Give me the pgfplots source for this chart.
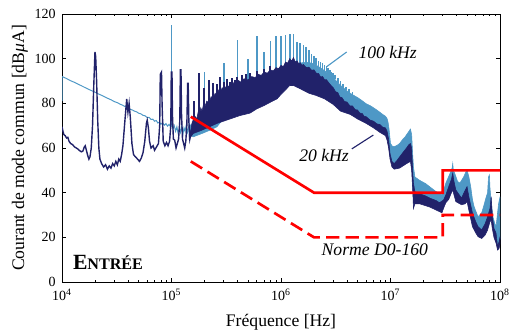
\documentclass[border=0pt]{standalone}
\usepackage{fontspec}
\setmainfont{Liberation Serif}
\usepackage{pgfplots}
\pgfplotsset{compat=1.18}
\definecolor{navy}{RGB}{33,34,106}
\definecolor{lblue}{RGB}{78,152,198}
\definecolor{lred}{RGB}{255,0,0}
\begin{document}
\begin{tikzpicture}
\begin{axis}[
 xmode=log, width=312.86pt, height=191.43pt, scale only axis,
 xmin=1e4, xmax=1e8, ymin=0, ymax=120,
 xtick={1e4,1e5,1e6,1e7,1e8},
 xticklabels={10\textsuperscript{4},10\textsuperscript{5},10\textsuperscript{6},10\textsuperscript{7},10\textsuperscript{8}},
 minor xtick={2e4,3e4,4e4,5e4,6e4,7e4,8e4,9e4,2e5,3e5,4e5,5e5,6e5,7e5,8e5,9e5,2e6,3e6,4e6,5e6,6e6,7e6,8e6,9e6,2e7,3e7,4e7,5e7,6e7,7e7,8e7,9e7},
 ytick={0,20,...,120},
 /pgf/number format/assume math mode=true,
 tick label style={font=\fontsize{10}{12}\selectfont},
 xticklabel style={yshift=-1.5pt},
 yticklabel style={xshift=-1pt},
 label style={font=\fontsize{12.6}{14}\selectfont},
 xlabel={Fréquence [Hz]}, ylabel={Courant de mode commun [dB\textit{μ}A]},
 xlabel style={at={(axis description cs:0.5,-0.1494)},anchor=center},
 ylabel style={at={(axis description cs:-0.0959,0.5)},anchor=center},
 major tick length=3pt, minor tick length=1.6pt,
 axis line style={line width=0.6pt},
 tick style={line width=0.5pt,black},
 unbounded coords=jump,
]
% ---- 100 kHz (light blue) low-frequency trace
\addplot[lblue, line width=0.7pt] coordinates {
(1.0e4,81) (1.003e4,92) (1.1e4,91.1) (1.2e4,90.1) (1.3e4,89.4) (1.4e4,88.6) (1.5e4,87.9) (1.6e4,87.2) (1.7e4,86.6) (1.8e4,86.0) (1.9e4,85.5) (2.0e4,85.0) (2.15e4,84.2) (2.3e4,83.6) (2.45e4,82.9) (2.6e4,82.3) (2.8e4,81.6) (3.0e4,80.8) (3.2e4,80.3) (3.4e4,79.6) (3.6e4,79.1) (3.8e4,78.4) (4.0e4,78.1) (4.2e4,77.3) (4.4e4,77.0) (4.6e4,76.5) (4.8e4,76.2) (5.0e4,75.6) (5.25e4,75.3) (5.5e4,74.6) (5.75e4,74.4) (6.0e4,73.6) (6.25e4,73.7) (6.5e4,72.8) (6.75e4,72.9) (7.0e4,72.0) (7.25e4,72.3) (7.5e4,71.2) (7.75e4,71.6) (8.0e4,70.6) (8.3e4,71.3) (8.6e4,70.2) (8.9e4,70.9) (9.2e4,69.8) (9.5e4,70.6) (9.8e4,69.5) (1.0e5,70.5) (1.03e5,68.5) (1.06e5,70) (1.09e5,67.5) (1.12e5,69.5) (1.15e5,66.5) (1.18e5,69) (1.21e5,67) (1.24e5,70) (1.27e5,66) (1.3e5,69) (1.33e5,67.5) (1.36e5,70) (1.4e5,67) (1.45e5,70)
};
% ---- 100 kHz band (upper envelope then lower envelope)
\addplot[lblue, fill=lblue, line width=0.4pt] coordinates {
(1.45e5,71) (1.5e5,70) (1.6e5,72) (1.7e5,71.5) (1.8e5,73) (1.9e5,72.5) (2.0e5,74.5) (2.1e5,74) (2.2e5,76) (2.35e5,75.5) (2.5e5,78) (2.65e5,77.5) (2.8e5,80) (3.0e5,80.5) (3.2e5,82) (3.6e5,84) (4e5,85.5) (4.5e5,87) (5e5,88) (6e5,89.5) (7e5,91) (8e5,92) (9e5,93) (1e6,94) (1.1e6,95) (1.2e6,96) (1.3e6,96.8) (1.4e6,97.5) (1.5e6,98) (1.6e6,98.3) (1.7e6,98.4) (1.8e6,98.2) (1.9e6,98) (2.0e6,97.6) (2.1e6,97) (2.2e6,96.5) (2.3e6,95.8) (2.4e6,95.2) (2.5e6,94.6) (2.6e6,94) (2.7e6,93.4) (2.8e6,92.8) (3.0e6,91.5) (3.2e6,90) (3.5e6,88) (3.8e6,86.5) (4.0e6,85.5) (4.3e6,84.5) (4.6e6,83.6) (5.0e6,82.6) (5.5e6,81.2) (6.0e6,79.8) (6.5e6,79) (7.0e6,78) (7.5e6,77) (8.0e6,76) (8.5e6,75) (9.0e6,74.2) (9.3e6,73.2) (9.5e6,71.5) (9.7e6,68.5) (1.0e7,62) (1.04e7,60.8) (1.08e7,60.6) (1.15e7,61.2) (1.21e7,62) (1.3e7,64) (1.36e7,65) (1.45e7,67) (1.52e7,68.5) (1.56e7,66) (1.59e7,58) (1.62e7,51.6) (1.67e7,47) (1.85e7,45.5) (2.1e7,44) (2.3e7,42.5) (2.6e7,40.5) (2.8e7,39.5) (2.95e7,39) (3.1e7,42) (3.2e7,44.3) (3.5e7,48.7) (3.65e7,51) (3.7e7,53.1) (3.75e7,50) (3.85e7,48.8) (4.1e7,45) (4.3e7,44.3) (4.65e7,47) (4.85e7,49) (5.0e7,50.2) (5.2e7,47) (5.4e7,42.7) (5.6e7,37) (5.8e7,33.7) (6.3e7,29.2) (6.8e7,31) (7.1e7,34) (7.4e7,37.3) (7.7e7,40) (7.85e7,47) (8.0e7,48) (8.1e7,42) (8.3e7,36) (8.6e7,29.2) (9.0e7,26) (9.2e7,24.8) (9.5e7,31) (9.7e7,35) (1e8,38.2)
(1e8,19.5) (9.8e7,17.5) (9.5e7,16.8) (9.2e7,19.9) (8.8e7,22.5) (8.5e7,26.5) (8.3e7,30.2) (8.1e7,29.5) (7.7e7,25.8) (7.3e7,23.5) (6.8e7,22) (6.3e7,22.8) (6.0e7,24.5) (5.6e7,27.3) (5.2e7,34.5) (5.0e7,38.5) (4.8e7,37.5) (4.45e7,37.1) (3.95e7,38.5) (3.8e7,41.5) (3.7e7,43.7) (3.6e7,42.5) (3.4e7,39.5) (3.2e7,38) (3.05e7,35.5) (2.95e7,33.5) (2.8e7,34) (2.3e7,36) (1.85e7,37.5) (1.67e7,37.5) (1.62e7,35.5) (1.6e7,42.5) (1.56e7,52.5) (1.52e7,56.5) (1.4e7,55.5) (1.21e7,53.5) (1.08e7,53) (1.03e7,54) (9.9e6,57.5) (9.6e6,62.5) (9.3e6,66) (9.0e6,68) (8.0e6,69.5) (7.0e6,71.5) (6.0e6,73.5) (5.0e6,75.5) (4.3e6,77.5) (3.5e6,79) (3.0e6,82) (2.5e6,84.5) (2.1e6,86) (1.8e6,87) (1.5e6,89) (1.3e6,90.5) (1.2e6,90.5) (1.1e6,88.5) (1.0e6,86.5) (9.2e5,84.5) (8e5,83) (7e5,81.5) (6e5,80) (5.2e5,78.1) (4.2e5,77) (3.2e5,75) (2.6e5,69.5) (2.25e5,68) (1.9e5,66.5) (1.58e5,65) (1.45e5,66) (1.45e5,71)
};
% ---- 100 kHz harmonics
\addplot[lblue, line width=1.2pt] coordinates {
(1e5,70) (1e5,115) (1e5,nan)
(2e5,74) (2e5,94) (2e5,nan)
(3e5,80) (3e5,98) (3e5,nan)
(4e5,85) (4e5,108.4) (4e5,nan)
(5e5,88) (5e5,100) (5e5,nan)
(6e5,89) (6e5,110) (6e5,nan)
(7e5,91) (7e5,103) (7e5,nan)
(8e5,92) (8e5,108) (8e5,nan)
(9e5,93) (9e5,110) (9e5,nan)
(1e6,94) (1e6,110) (1e6,nan)
(1.1e6,95) (1.1e6,110.5) (1.1e6,nan)
(1.2e6,96) (1.2e6,111) (1.2e6,nan)
(1.3e6,96.8) (1.3e6,111) (1.3e6,nan)
(1.4e6,97.5) (1.4e6,107.6) (1.4e6,nan)
(1.5e6,98) (1.5e6,107) (1.5e6,nan)
(1.6e6,98) (1.6e6,106) (1.6e6,nan)
(1.7e6,98) (1.7e6,105.4) (1.7e6,nan)
(1.8e6,98) (1.8e6,104) (1.8e6,nan)
(1.9e6,97.8) (1.9e6,102) (1.9e6,nan)
(2.0e6,97.5) (2.0e6,101) (2.0e6,nan)
(2.1e6,97) (2.1e6,100.2) (2.1e6,nan)
(2.2e6,96.4) (2.2e6,99) (2.2e6,nan)
(2.3e6,95.7) (2.3e6,98.4) (2.3e6,nan)
(2.4e6,95.1) (2.4e6,98) (2.4e6,nan)
(2.5e6,94.5) (2.5e6,97) (2.5e6,nan)
(2.6e6,93.9) (2.6e6,96.5) (2.6e6,nan)
(2.7e6,93.3) (2.7e6,95.8) (2.7e6,nan)
(2.8e6,92.7) (2.8e6,95) (2.8e6,nan)
(2.9e6,92) (2.9e6,94) (2.9e6,nan)
(3.0e6,91.4) (3.0e6,93.5) (3.0e6,nan)
(3.1e6,90.7) (3.1e6,92.5) (3.1e6,nan)
(3.3e6,89.3) (3.3e6,91.3) (3.3e6,nan)
(3.5e6,87.9) (3.5e6,89.8) (3.5e6,nan)
(3.7e6,86.8) (3.7e6,88.8) (3.7e6,nan)
(3.9e6,85.8) (3.9e6,87.5) (3.9e6,nan)
(4.2e6,84.7) (4.2e6,86.5) (4.2e6,nan)
(4.5e6,83.8) (4.5e6,85.3) (4.5e6,nan)
};
% ---- 20 kHz (navy) low-frequency trace
\addplot[navy, line width=1pt] coordinates {
(1.0e4,69.5) (1.02e4,67.5) (1.04e4,66) (1.07e4,65.5) (1.1e4,64.5) (1.13e4,64.8) (1.16e4,63) (1.2e4,62) (1.25e4,61.5) (1.3e4,60.5) (1.35e4,60) (1.4e4,59.5) (1.45e4,58.8) (1.5e4,58.3) (1.55e4,58.6) (1.6e4,60.5) (1.63e4,61) (1.67e4,59) (1.72e4,56.5) (1.76e4,55) (1.8e4,56) (1.85e4,60) (1.9e4,70) (1.95e4,88) (2.0e4,103) (2.03e4,101) (2.07e4,90) (2.12e4,72) (2.17e4,60) (2.22e4,55) (2.3e4,53) (2.4e4,51.5) (2.5e4,52.5) (2.6e4,50.5) (2.7e4,52) (2.8e4,51) (2.9e4,53) (3.0e4,52) (3.1e4,54) (3.2e4,52.5) (3.3e4,55) (3.4e4,54) (3.5e4,57) (3.6e4,61) (3.75e4,72) (3.9e4,82) (4.0e4,76) (4.1e4,80) (4.2e4,74) (4.35e4,62) (4.5e4,57) (4.7e4,56) (4.9e4,55) (5.1e4,54) (5.3e4,55.5) (5.5e4,58) (5.7e4,63) (5.9e4,71) (6.0e4,72.5) (6.15e4,69) (6.3e4,63) (6.5e4,60) (6.8e4,61) (7.0e4,59) (7.3e4,60.5) (7.6e4,62) (7.8e4,70) (7.9e4,93) (8.1e4,94) (8.2e4,80) (8.4e4,63) (8.7e4,61) (9.0e4,62.5) (9.3e4,61) (9.6e4,63) (9.85e4,70) (9.95e4,94) (1.01e5,94) (1.02e5,75) (1.04e5,64) (1.07e5,63.5) (1.1e5,60) (1.13e5,62) (1.16e5,64) (1.19e5,72) (1.205e5,95) (1.22e5,95) (1.235e5,75) (1.26e5,64) (1.29e5,62) (1.32e5,60) (1.35e5,63) (1.38e5,70) (1.405e5,89) (1.42e5,89) (1.44e5,72) (1.47e5,64) (1.5e5,66)
};
% ---- 20 kHz band
\addplot[navy, fill=navy, line width=0.4pt] coordinates {
(1.45e5,66) (1.5e5,68) (1.55e5,72) (1.6e5,70) (1.65e5,74) (1.7e5,73) (1.75e5,76) (1.8e5,75) (1.85e5,78) (1.9e5,76.5) (1.95e5,79) (2.0e5,78) (2.1e5,81) (2.2e5,80) (2.3e5,83) (2.4e5,82) (2.5e5,84.5) (2.6e5,83.5) (2.7e5,86) (2.8e5,85) (2.9e5,87) (3.0e5,86) (3.2e5,88) (3.4e5,87.5) (3.6e5,89.5) (3.8e5,88.5) (4.0e5,90.5) (4.3e5,89.5) (4.6e5,91) (5.0e5,90.5) (5.4e5,92) (5.8e5,91.5) (6.2e5,93) (6.6e5,92.5) (7.0e5,94) (7.5e5,93.5) (8.0e5,95) (8.5e5,94.5) (9.0e5,96) (9.5e5,95.5) (1.0e6,97) (1.05e6,96.5) (1.1e6,98.5) (1.15e6,98) (1.2e6,100) (1.25e6,99) (1.3e6,100.5) (1.35e6,98.5) (1.4e6,99) (1.45e6,97.8) (1.5e6,98.2) (1.55e6,97) (1.6e6,97.4) (1.7e6,96) (1.8e6,96.2) (1.9e6,94.8) (2.0e6,95) (2.1e6,93.5) (2.2e6,93.4) (2.3e6,91.8) (2.4e6,92) (2.5e6,90.5) (2.6e6,90.6) (2.8e6,88.5) (3.0e6,87) (3.15e6,85.2) (3.3e6,84.8) (3.45e6,82.8) (3.6e6,82.6) (3.8e6,80.8) (4.0e6,80.6) (4.25e6,78.9) (4.5e6,78.8) (4.75e6,77.2) (5.0e6,77) (5.25e6,75.6) (5.5e6,75.5) (5.75e6,74.2) (6.0e6,74) (6.5e6,72.5) (7.0e6,72) (7.5e6,70.8) (8.0e6,70.5) (8.5e6,69.3) (9.0e6,69) (9.3e6,67.5) (9.6e6,64) (9.9e6,57.5) (1.03e7,54) (1.08e7,53) (1.15e7,54.5) (1.21e7,56) (1.3e7,58) (1.4e7,60) (1.47e7,61.5) (1.52e7,62) (1.56e7,60) (1.6e7,48) (1.62e7,44.3) (1.67e7,40.4) (1.85e7,39.5) (2.1e7,38.5) (2.3e7,37.5) (2.6e7,36.5) (2.8e7,35.5) (3.05e7,36.7) (3.2e7,39) (3.4e7,42.7) (3.6e7,46) (3.7e7,48.7) (3.8e7,45) (3.95e7,41.2) (4.45e7,37.6) (4.8e7,41) (5.0e7,42.7) (5.2e7,38) (5.6e7,30.9) (6.0e7,27) (6.3e7,24.8) (6.8e7,23.3) (7.3e7,26) (7.7e7,29.2) (8.1e7,33) (8.3e7,38.2) (8.5e7,30) (8.8e7,24) (9.2e7,21.9) (9.5e7,15.8) (9.8e7,18) (1e8,20.3)
(1e8,17) (9.8e7,15) (9.5e7,14.3) (9.2e7,17.4) (8.8e7,20) (8.5e7,24) (8.3e7,27.7) (8.1e7,27) (7.7e7,23.3) (7.3e7,21) (6.8e7,19.5) (6.3e7,20.3) (6.0e7,22) (5.6e7,24.8) (5.2e7,32) (5.0e7,36) (4.8e7,35) (4.45e7,34.6) (3.95e7,36) (3.8e7,39) (3.7e7,41.2) (3.6e7,40) (3.4e7,37) (3.2e7,35.5) (3.05e7,33) (2.95e7,31) (2.8e7,31.5) (2.3e7,33.5) (1.85e7,35) (1.67e7,35) (1.62e7,33) (1.6e7,40) (1.56e7,50) (1.52e7,54) (1.4e7,53) (1.21e7,51) (1.08e7,50.5) (1.03e7,51.5) (9.9e6,55) (9.6e6,60) (9.3e6,63.5) (9.0e6,65.5) (8.0e6,67) (7.0e6,69) (6.0e6,71) (5.0e6,73) (4.3e6,75) (3.5e6,76.5) (3.0e6,79.5) (2.5e6,82) (2.1e6,83.5) (1.8e6,84.5) (1.5e6,86.5) (1.3e6,88) (1.2e6,88) (1.1e6,86) (1.0e6,84) (9.2e5,82) (8e5,80.5) (7e5,79) (6e5,77.5) (5.2e5,75.6) (4.2e5,74.5) (3.2e5,72.5) (2.6e5,71) (2.25e5,69.6) (1.9e5,68) (1.58e5,66.5) (1.45e5,64) (1.45e5,66)
};
% ---- 20 kHz harmonics
\addplot[navy, line width=1.4pt] coordinates {
(1.6e5,70) (1.6e5,81) (1.6e5,nan)
(1.8e5,73) (1.8e5,93.4) (1.8e5,nan)
(2.0e5,76) (2.0e5,87) (2.0e5,nan)
(2.2e5,78) (2.2e5,90.4) (2.2e5,nan)
(2.4e5,80) (2.4e5,89) (2.4e5,nan)
(2.6e5,82) (2.6e5,88.5) (2.6e5,nan)
(2.8e5,84) (2.8e5,92) (2.8e5,nan)
(3.0e5,85) (3.0e5,89.5) (3.0e5,nan)
(3.2e5,86) (3.2e5,91) (3.2e5,nan)
(3.4e5,87) (3.4e5,89.5) (3.4e5,nan)
(3.6e5,88) (3.6e5,91.5) (3.6e5,nan)
(3.8e5,88) (3.8e5,90.5) (3.8e5,nan)
(4.0e5,89) (4.0e5,92) (4.0e5,nan)
(4.4e5,89) (4.4e5,92.5) (4.4e5,nan)
(4.8e5,90) (4.8e5,93) (4.8e5,nan)
(5.2e5,91) (5.2e5,93.5) (5.2e5,nan)
(6.0e5,92) (6.0e5,94.5) (6.0e5,nan)
(7.0e5,93) (7.0e5,95.5) (7.0e5,nan)
(8.0e5,94) (8.0e5,96.5) (8.0e5,nan)
};
% ---- DO-160 limits
\addplot[lred, line width=1.9pt] coordinates {(1.5e5,74) (2e6,40) (3e7,40) (3e7,50) (1e8,50)};
\addplot[lred, line width=1.9pt, dash pattern=on 9.5pt off 4.5pt] coordinates {(1.5e5,54) (2e6,20) (3e7,20) (3e7,30) (1e8,30)};
% ---- annotations
\draw[lblue, line width=0.8pt] (axis cs:3.98e6,103) -- (axis cs:2.61e6,96.4);
\draw[navy, line width=0.8pt] (axis cs:4.43e6,59.6) -- (axis cs:6.97e6,65.8);
\node[font=\fontsize{12.6}{14}\selectfont\itshape] at (axis cs:9.42e6,102.9) {100 kHz};
\node[font=\fontsize{12.6}{14}\selectfont\itshape] at (axis cs:2.47e6,56.6) {20 kHz};
\node[font=\fontsize{12.6}{14}\selectfont\itshape] at (axis cs:7.2e6,14.3) {Norme D0-160};
\node at (axis cs:2.63e4,9) {\bfseries{\fontsize{15.5}{16}\selectfont E}{\fontsize{11.5}{12}\selectfont NTRÉE}};
\end{axis}
\pgfresetboundingbox
\path[use as bounding box] ([xshift=-44.29pt,yshift=-35pt]current axis.south west) rectangle ([xshift=7.14pt,yshift=10pt]current axis.north east);
\end{tikzpicture}
\end{document}
